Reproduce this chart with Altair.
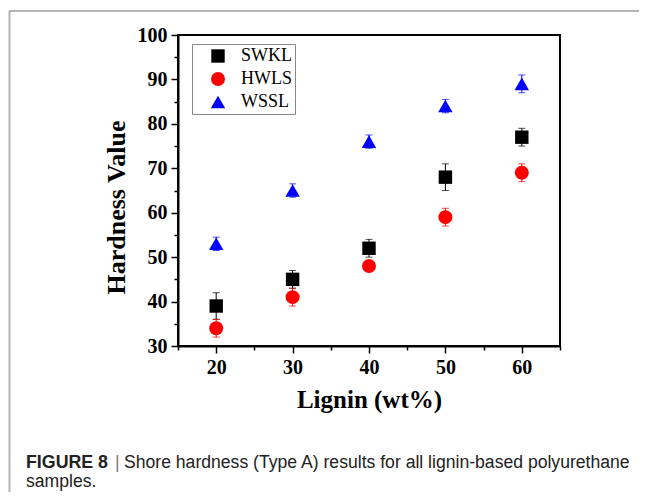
import altair as alt
import pandas as pd

lignin = [20, 30, 40, 50, 60]
samples = ["SWKL", "HWLS", "WSSL"]
swkl = [39, 45, 52, 68, 77]
swkl_err = [3, 2, 2, 3, 2]
hwls = [34, 41, 48, 59, 69]
hwls_err = [2, 2, 1, 2, 2]
wssl = [53, 65, 76, 84, 89]
wssl_err = [1.5, 1.5, 1.5, 1.5, 2]
colors = ["#000000", "#ff0000", "#0000ff"]
shapes = ["square", "circle", "triangle-up"]
sizes = [180, 210, 300]

rows = []
for name, vals, errs in [("SWKL", swkl, swkl_err), ("HWLS", hwls, hwls_err), ("WSSL", wssl, wssl_err)]:
    for x, v, e in zip(lignin, vals, errs):
        rows.append({"sample": name, "lignin": x, "value": v, "lo": v - e, "hi": v + e})
df = pd.DataFrame(rows)

FONT = "Liberation Serif"

xscale = alt.Scale(domain=[15, 65], nice=False)
yscale = alt.Scale(domain=[30, 100], nice=False)

xaxis = alt.Axis(
    values=[15, 20, 25, 30, 35, 40, 45, 50, 55, 60, 65],
    labelExpr="datum.value % 10 === 0 ? datum.label : ''",
    tickSize={"condition": {"test": "datum.value % 10 === 0", "value": 7}, "value": 4},
    grid=False, labelFlush=False, labelOverlap=False,
    domainColor="black", domainWidth=2, tickColor="black", tickWidth=1.5,
    labelFont=FONT, labelFontWeight="bold", labelFontSize=20, labelColor="black", labelPadding=4,
    title="Lignin (wt%)", titleFont=FONT, titleFontWeight="bold", titleFontSize=25,
    titleColor="black", titlePadding=10,
)
yaxis = alt.Axis(
    values=[30, 35, 40, 45, 50, 55, 60, 65, 70, 75, 80, 85, 90, 95, 100],
    labelExpr="datum.value % 10 === 0 ? datum.label : ''",
    tickSize={"condition": {"test": "datum.value % 10 === 0", "value": 7}, "value": 4},
    grid=False, labelFlush=False, labelOverlap=False,
    domainColor="black", domainWidth=2, tickColor="black", tickWidth=1.5,
    labelFont=FONT, labelFontWeight="bold", labelFontSize=20, labelColor="black", labelPadding=4,
    title="Hardness Value", titleFont=FONT, titleFontWeight="bold", titleFontSize=26,
    titleColor="black", titlePadding=8, titleY=172,
)

legend = alt.Legend(
    orient="none", legendX=14, legendY=9, title=None,
    labelFont=FONT, labelFontSize=18, labelColor="black",
    symbolSize=180, symbolOffset=14, labelOffset=14, symbolOpacity=1,
    symbolStrokeWidth=0,
    rowPadding=5, padding=3,
    strokeColor="#888888", fillColor="white",
)


def X():
    return alt.X("lignin:Q", scale=xscale, axis=xaxis)


def Yf(field):
    return alt.Y(f"{field}:Q", scale=yscale, axis=yaxis)


def C():
    return alt.Color("sample:N", scale=alt.Scale(domain=samples, range=colors), legend=legend)


base = alt.Chart(df)

err = base.mark_rule(strokeWidth=1).encode(x=X(), y=Yf("lo"), y2="hi", color=C())
cap_lo = base.mark_tick(orient="horizontal", size=7, thickness=1).encode(x=X(), y=Yf("lo"), color=C())
cap_hi = base.mark_tick(orient="horizontal", size=7, thickness=1).encode(x=X(), y=Yf("hi"), color=C())

points = base.mark_point(filled=True, opacity=1).encode(
    x=X(),
    y=Yf("value"),
    color=C(),
    shape=alt.Shape("sample:N", scale=alt.Scale(domain=samples, range=shapes), legend=legend),
    size=alt.Size("sample:N", scale=alt.Scale(domain=samples, range=sizes), legend=None),
)

one = alt.Data(values=[{"a": 1}])
frame_top = alt.Chart(one).mark_rule(color="#b4b4b4", strokeWidth=2).encode(
    x=alt.value(-169), x2=alt.value(480), y=alt.value(-24)
)
frame_left = alt.Chart(one).mark_rule(color="#b4b4b4", strokeWidth=2).encode(
    x=alt.value(-168.5), y=alt.value(-24), y2=alt.value(480)
)

cap1 = alt.Chart(one).mark_text(
    text="FIGURE 8", font="Liberation Sans", fontWeight="bold", fontSize=17.8,
    align="left", baseline="alphabetic", color="#222222",
).encode(x=alt.value(-152), y=alt.value(433))
bar = alt.Chart(one).mark_text(
    text="|", font="Liberation Sans", fontSize=17.6,
    align="left", baseline="alphabetic", color="#777777",
).encode(x=alt.value(-63), y=alt.value(433))
cap2 = alt.Chart(one).mark_text(
    text="Shore hardness (Type A) results for all lignin-based polyurethane",
    font="Liberation Sans", fontSize=17.6, align="left", baseline="alphabetic", color="#222222",
).encode(x=alt.value(-54), y=alt.value(433))
cap3 = alt.Chart(one).mark_text(
    text="samples.", font="Liberation Sans", fontSize=17.6, align="left", baseline="alphabetic", color="#222222",
).encode(x=alt.value(-152), y=alt.value(452))

chart = alt.layer(
    frame_top, frame_left, err, cap_lo, cap_hi, points, cap1, bar, cap2, cap3
).properties(
    width=382, height=311,
    autosize=alt.AutoSizeParams(type="none"),
    padding={"left": 170, "top": 27, "right": 79, "bottom": 146},
    background="white",
).configure_view(stroke="black", strokeWidth=2)

chart.save("out.html", embed_options={"renderer": "svg", "actions": False})
